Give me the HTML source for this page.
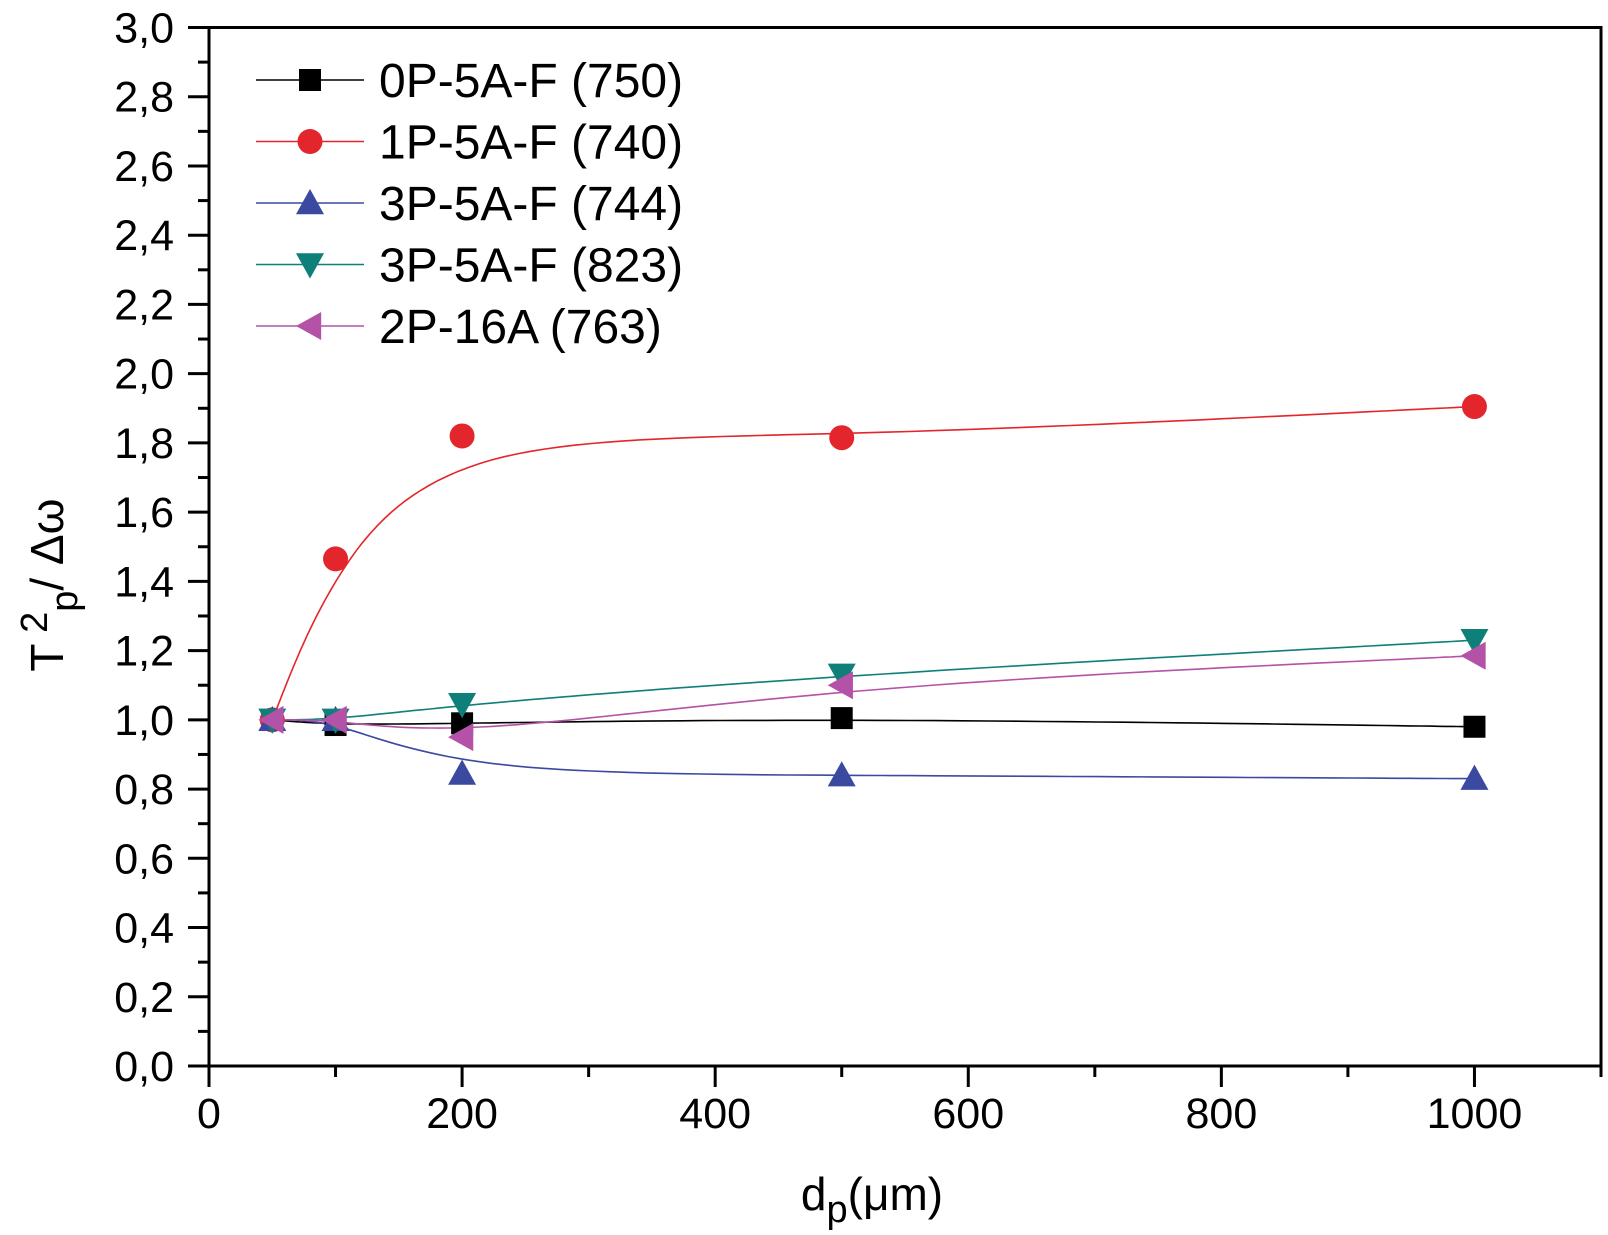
<!DOCTYPE html>
<html><head><meta charset="utf-8"><style>
html,body{margin:0;padding:0;background:#fff}
svg{display:block;font-family:"Liberation Sans",Arial,sans-serif}
</style></head><body>
<svg id="chart" width="1608" height="1235" viewBox="0 0 1608 1235" xmlns="http://www.w3.org/2000/svg">
<g id="axes"></g>
<g id="series"></g>
<g id="legend"></g>
<text transform="translate(63,585) rotate(-90)" text-anchor="middle" font-size="46">T<tspan dy="-16" font-size="38"> 2</tspan><tspan dy="30" font-size="38">p</tspan><tspan dy="-14">/ Δω</tspan></text>
<text x="872" y="1210" text-anchor="middle" font-size="46">d<tspan dy="12" font-size="38">p</tspan><tspan dy="-12">(μm)</tspan></text>
</svg>
<script>
const xValues = [50, 100, 200, 500, 1000];
const seriesNames = ["0P-5A-F (750)", "1P-5A-F (740)", "3P-5A-F (744)", "3P-5A-F (823)", "2P-16A (763)"];
const s0 = [1.0, 0.985, 0.99, 1.005, 0.98];
const s1 = [1.0, 1.465, 1.82, 1.815, 1.905];
const s2 = [1.0, 1.0, 0.845, 0.84, 0.83];
const s3 = [1.0, 1.0, 1.045, 1.13, 1.23];
const s4 = [1.0, 1.0, 0.95, 1.10, 1.185];
const xTicks = [0, 200, 400, 600, 800, 1000];
const yTicks = ["0,0","0,2","0,4","0,6","0,8","1,0","1,2","1,4","1,6","1,8","2,0","2,2","2,4","2,6","2,8","3,0"];

const NS = "http://www.w3.org/2000/svg";
const X0 = 209, X1 = 1601, Y0 = 1066, Y1 = 27.5;
const xs = v => X0 + (v / 1100) * (X1 - X0);
const ys = v => Y0 - (v / 3) * (Y0 - Y1);
function mk(tag, attrs, parent) { const e = document.createElementNS(NS, tag); for (const k in attrs) e.setAttribute(k, attrs[k]); parent.appendChild(e); return e; }

const axes = document.getElementById('axes');
const frame = mk('rect', {x: X0, y: Y1, width: X1 - X0, height: Y0 - Y1, fill: 'none', stroke: '#000', 'stroke-width': 3}, axes);


for (let v = 0; v <= 1100; v += 100) {
  const major = v % 200 === 0;
  const t = mk('line', {x1: xs(v), x2: xs(v), y1: Y0, y2: Y0 + (major ? 21 : 11), stroke: '#000', 'stroke-width': 3}, axes);
  
  
}
xTicks.forEach(v => {
  const t = mk('text', {x: xs(v), y: 1128, 'text-anchor': 'middle', 'font-size': 43}, axes);
  t.textContent = String(v);
  
  
});
for (let i = 0; i <= 30; i++) {
  const major = i % 2 === 0;
  const t = mk('line', {x1: X0 - (major ? 21 : 11), x2: X0, y1: ys(i / 10), y2: ys(i / 10), stroke: '#000', 'stroke-width': 3}, axes);
  
  
}
yTicks.forEach((lbl, i) => {
  const t = mk('text', {x: 174, y: ys(i * 0.2) + 15, 'text-anchor': 'end', 'font-size': 43}, axes);
  t.textContent = lbl;
  
  
});

const colors = ['#000000', '#e3262b', '#3b4aa0', '#0f7f7a', '#b452a8'];
const shapes = ['square', 'circle', 'up', 'down', 'left'];
const data = [s0, s1, s2, s3, s4];

function bspline(pts) {
  const P = [pts[0], pts[0], ...pts, pts[pts.length - 1], pts[pts.length - 1]];
  let d = '';
  for (let i = 0; i < P.length - 3; i++) {
    for (let k = 0; k <= 20; k++) {
      const t = k / 20, t2 = t * t, t3 = t2 * t;
      const b0 = (1 - t) ** 3 / 6, b1 = (3 * t3 - 6 * t2 + 4) / 6, b2 = (-3 * t3 + 3 * t2 + 3 * t + 1) / 6, b3 = t3 / 6;
      const x = b0 * P[i][0] + b1 * P[i + 1][0] + b2 * P[i + 2][0] + b3 * P[i + 3][0];
      const y = b0 * P[i][1] + b1 * P[i + 1][1] + b2 * P[i + 2][1] + b3 * P[i + 3][1];
      d += (d ? 'L' : 'M') + x.toFixed(1) + ',' + y.toFixed(1);
    }
  }
  return d;
}
function marker(shape, cx, cy, color, parent) {
  const r = 14;
  if (shape === 'square') return mk('rect', {x: cx - 11, y: cy - 11, width: 22, height: 22, fill: color}, parent);
  if (shape === 'circle') return mk('circle', {cx, cy, r: 12.5, fill: color}, parent);
  let p;
  if (shape === 'up') p = [[cx, cy - r], [cx + r, cy + r * 0.8], [cx - r, cy + r * 0.8]];
  if (shape === 'down') p = [[cx, cy + r], [cx + r, cy - r * 0.8], [cx - r, cy - r * 0.8]];
  if (shape === 'left') p = [[cx - r, cy], [cx + r * 0.8, cy - r], [cx + r * 0.8, cy + r]];
  return mk('polygon', {points: p.map(q => q.join(',')).join(' '), fill: color}, parent);
}

const sg = document.getElementById('series');
data.forEach((vals, si) => {
  const g = mk('g', {}, sg);
  
  
  const pts = vals.map((v, i) => [xs(xValues[i]), ys(v)]);
  const line = mk('path', {d: bspline(pts), fill: 'none', stroke: colors[si], 'stroke-width': 1.6}, g);
  
  
});
data.forEach((vals, si) => {
  vals.forEach((v, i) => {
    const m = marker(shapes[si], xs(xValues[i]), ys(v), colors[si], sg);
    
    
  });
});

const lg = document.getElementById('legend');
seriesNames.forEach((name, si) => {
  const y = 80 + si * 61.5;
  const g = mk('g', {}, lg);
  
  
  mk('line', {x1: 256, x2: 364, y1: y, y2: y, stroke: colors[si], 'stroke-width': 1.6}, g);
  marker(shapes[si], 310, y, colors[si], g);
  const t = mk('text', {x: 379, y: y + 17, 'font-size': 48}, g);
  t.textContent = name;
});
</script>
</body></html>
